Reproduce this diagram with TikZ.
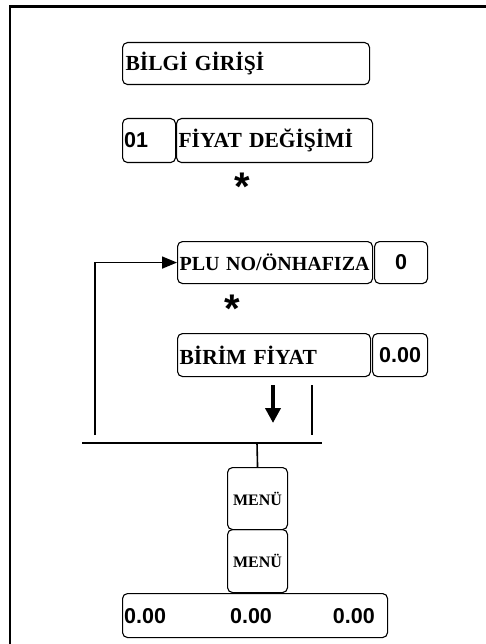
\documentclass[tikz,border=0pt]{standalone}
\usepackage{fontspec}
\setmainfont{Liberation Serif}
\newfontfamily\arialf{Liberation Sans}
\usetikzlibrary{arrows.meta}
\tikzset{
  keybox/.style={draw, rounded corners=5pt, line width=1.1pt, inner sep=0pt, anchor=north west},
  lbox/.style={keybox, align=left, inner xsep=3pt, font=\fontsize{21.5}{24}\selectfont\bfseries},
  numfont/.style={font=\arialf\fontsize{21.5}{23}\selectfont\bfseries},
  numtxt/.style={inner sep=0pt, numfont},
  startxt/.style={inner sep=0pt, font=\arialf\fontsize{40}{40}\selectfont\bfseries},
  conn/.style={line width=1.6pt},
}
\begin{document}
\begin{tikzpicture}[x=1pt,y=-1pt]
\useasboundingbox (0,0) rectangle (486,644);
% frame (top and left)
\draw[line width=2.5pt] (10,644) -- (10,6.5) -- (486,6.5);
% boxes
\node[lbox, text width=241pt, minimum height=42pt] (bilgi) at (122,42) {BİLGİ GİRİŞİ};
\node[keybox, minimum width=53pt, minimum height=44pt] (n01) at (122,118) {};
\node[numtxt, anchor=west] (n01t) at ([xshift=2pt]n01.west) {01};
\node[lbox, text width=192pt, minimum height=44pt, inner xsep=2pt] (fiyat) at (176,118) {FİYAT DEĞİŞİMİ};
\node[startxt] (star1) at (242,187) {*};
\node[lbox, text width=191pt, minimum height=42pt, inner xsep=2pt, font=\fontsize{20}{24}\selectfont\bfseries] (plu) at (177,241) {PLU NO/ÖNHAFIZA};
\node[keybox, minimum width=53pt, minimum height=42pt, numfont] (zero) at (374,241) {0};
\node[startxt] (star2) at (232,309) {*};
\node[lbox, text width=189pt, minimum height=43pt, inner xsep=2pt] (birim) at (177,333) {BİRİM FİYAT};
\node[keybox, minimum width=55pt, minimum height=43pt, numfont] (price) at (372,333) {0.00};
\node[keybox, minimum width=60pt, minimum height=62pt, font=\fontsize{16}{18}\selectfont\bfseries] (menu1) at (227,467) {MENÜ};
\node[keybox, minimum width=60pt, minimum height=63pt, font=\fontsize{16}{18}\selectfont\bfseries] (menu2) at (227,529) {MENÜ};
\node[keybox, minimum width=265pt, minimum height=44pt] (disp) at (122,593) {};
\node[numtxt, anchor=base west] (d1) at (124,623) {0.00};
\node[numtxt, anchor=base] (d2) at (251,623) {0.00};
\node[numtxt, anchor=base east] (d3) at (375,623) {0.00};
% connectors
\coordinate (hl) at (82,443);
\coordinate (hr) at (322,443);
\coordinate (hub) at (257,443);
\coordinate (loop) at (95,435);
\coordinate (atop) at (273,385);
\coordinate (abot) at (273,423);
\coordinate (vtop) at (312,385);
\coordinate (vbot) at (312,435);
\draw[conn] (hl) -- (hr);
\draw[conn] (hub) -- (menu1.north);
\draw[conn] (vtop) -- (vbot);
\draw[conn, -{Triangle[width=12pt,length=15pt]}] (loop) |- (plu.west);
\draw[line width=4pt, -{Triangle[width=15pt,length=15pt]}] (atop) -- (abot);
\end{tikzpicture}
\end{document}
